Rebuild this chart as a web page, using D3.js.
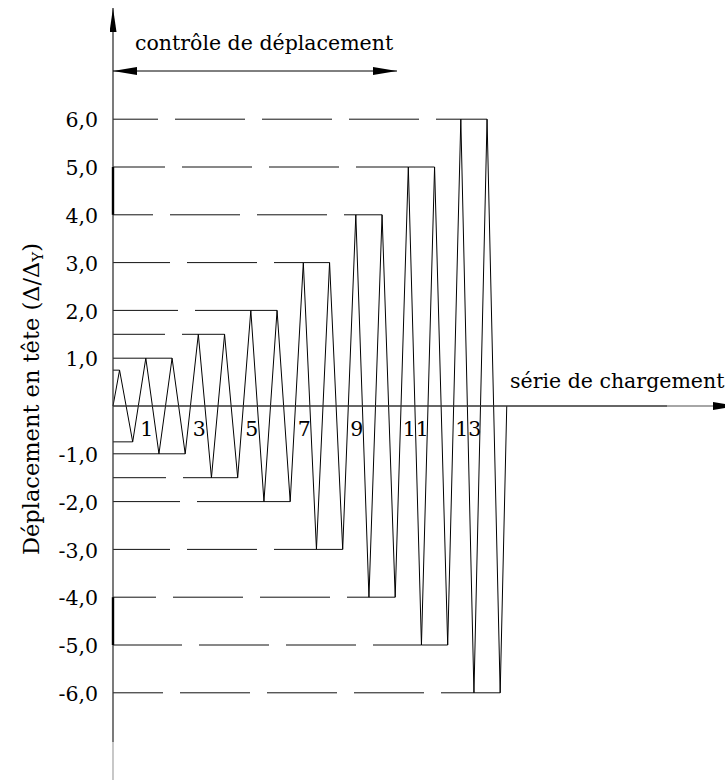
<!DOCTYPE html>
<html>
<head>
<meta charset="utf-8">
<script src="https://cdn.jsdelivr.net/npm/d3@7"></script>
<style>
  body { margin: 0; background: #fff; }
</style>
</head>
<body>
<div class="container"></div>
<script>
  var width = 725,
    height = 782;

  // amplitude of each loading cycle (Δ/ΔY), one entry per cycle
  var cycleAmps = [0.75, 1, 1, 1.5, 1.5, 2, 2, 3, 3, 4, 4, 5, 5, 6, 6];
  var yTicks = [6, 5, 4, 3, 2, 1, -1, -2, -3, -4, -5, -6];
  var xLabels = [1, 3, 5, 7, 9, 11, 13];

  // length of the first dash of each level line (drawing style only)
  var firstDash = { "6": 45, "5": 52, "4": 40, "3": 57, "2": 65, "1.5": 52, "1": 70, "0.75": 70,
    "-0.75": 70, "-1": 70, "-1.5": 53, "-2": 67, "-3": 57, "-4": 43, "-5": 69, "-6": 50 };

  var serif = "DejaVu Serif";
  var fontSize = 20.5;

  var nCycles = cycleAmps.length;

  var x = d3.scaleLinear()
    .domain([0, 2 * nCycles])
    .range([113, 506.75]);

  var y = d3.scaleLinear()
    .domain([-6, 6])
    .range([692.8, 119.2]);

  var svg = d3.select(".container").append("svg")
    .attr("width", width)
    .attr("height", height)
    .attr("font-family", serif);

  var defs = svg.append("defs");
  defs.append("marker")
    .attr("id", "arrow")
    .attr("viewBox", "0 0 24 8")
    .attr("refX", 24).attr("refY", 4)
    .attr("markerWidth", 24).attr("markerHeight", 8)
    .attr("markerUnits", "userSpaceOnUse")
    .attr("orient", "auto-start-reverse")
    .append("path")
    .attr("d", "M0,0L24,4L0,8Z")
    .attr("fill", "#000");
  defs.append("marker")
    .attr("id", "arrowThin")
    .attr("viewBox", "0 0 24 7")
    .attr("refX", 24).attr("refY", 3.5)
    .attr("markerWidth", 24).attr("markerHeight", 7)
    .attr("markerUnits", "userSpaceOnUse")
    .attr("orient", "auto")
    .append("path")
    .attr("d", "M0,0L24,3.5L0,7Z")
    .attr("fill", "#000");

  // zigzag points: (t, value)
  var pts = [[0, 0]];
  cycleAmps.forEach(function(a, i) {
    pts.push([2 * i + 0.5, a]);
    pts.push([2 * i + 1.5, -a]);
  });
  pts.push([2 * nCycles, 0]);

  // level lines: from the axis to the first peak (dashed), then between peaks (solid)
  var levels = [];
  cycleAmps.forEach(function(a, i) {
    [1, -1].forEach(function(s) {
      var v = s * a, t = s > 0 ? 2 * i + 0.5 : 2 * i + 1.5;
      var l = levels.find(function(d) { return d.v === v; });
      if (!l) levels.push({ v: v, first: t, last: t });
      else l.last = t;
    });
  });

  var lev = svg.append("g")
    .attr("stroke", "#111")
    .attr("stroke-width", 1)
    .attr("fill", "none");

  lev.selectAll(".dash")
    .data(levels)
    .enter().append("line")
    .attr("class", "dash")
    .attr("x1", x(0))
    .attr("x2", function(d) { return x(d.first); })
    .attr("y1", function(d) { return y(d.v); })
    .attr("y2", function(d) { return y(d.v); })
    .attr("stroke-dasharray", "70,17")
    .attr("stroke-dashoffset", function(d) { return 70 - firstDash[String(d.v)]; });

  lev.selectAll(".solid")
    .data(levels.filter(function(d) { return d.last > d.first; }))
    .enter().append("line")
    .attr("class", "solid")
    .attr("x1", function(d) { return x(d.first); })
    .attr("x2", function(d) { return x(d.last); })
    .attr("y1", function(d) { return y(d.v); })
    .attr("y2", function(d) { return y(d.v); });

  // zigzag load history
  svg.append("path")
    .datum(pts)
    .attr("fill", "none")
    .attr("stroke", "#000")
    .attr("stroke-width", 1)
    .attr("d", d3.line()
      .x(function(d) { return x(d[0]); })
      .y(function(d) { return y(d[1]); }));

  // axes
  var axes = svg.append("g")
    .attr("stroke", "#333")
    .attr("stroke-width", 1.3)
    .attr("fill", "none");

  axes.append("line")
    .attr("x1", x(0)).attr("x2", x(0))
    .attr("y1", 742).attr("y2", 8)
    .attr("marker-end", "url(#arrowThin)");
  axes.append("line")
    .attr("x1", x(0)).attr("x2", x(0))
    .attr("y1", 780).attr("y2", 742)
    .attr("stroke", "#aaa");
  axes.append("line")
    .attr("x1", x(0)).attr("x2", 667)
    .attr("y1", y(0)).attr("y2", y(0));
  axes.append("line")
    .attr("x1", 667).attr("x2", 737)
    .attr("y1", y(0)).attr("y2", y(0))
    .attr("stroke", "#888")
    .attr("marker-end", "url(#arrow)");

  // heavier pieces of the vertical axis
  axes.selectAll(".bold")
    .data([[4, 5], [-4, -5]])
    .enter().append("line")
    .attr("x1", x(0)).attr("x2", x(0))
    .attr("y1", function(d) { return y(d[0]); })
    .attr("y2", function(d) { return y(d[1]); })
    .attr("stroke", "#000")
    .attr("stroke-width", 2.4);

  // displacement-control arrow
  axes.append("line")
    .attr("x1", x(0)).attr("x2", 397)
    .attr("y1", 71).attr("y2", 71)
    .attr("stroke", "#000")
    .attr("stroke-width", 1)
    .attr("marker-start", "url(#arrow)")
    .attr("marker-end", "url(#arrow)");

  // y tick labels
  var fr = d3.formatLocale({ decimal: ",", thousands: ".", grouping: [3], currency: ["", ""], minus: "-" });
  var yAxis = d3.axisLeft(y)
    .tickValues(yTicks)
    .tickSize(0)
    .tickPadding(15)
    .tickFormat(fr.format(".1f"));

  var ya = svg.append("g")
    .attr("transform", "translate(" + x(0) + ",0)")
    .call(yAxis);
  ya.select(".domain").remove();
  ya.attr("font-family", serif).attr("font-size", fontSize);
  ya.selectAll("text")
    .attr("fill", "#000")
    .attr("dy", "0.38em");

  // x labels (load series)
  svg.selectAll(".xlab")
    .data(xLabels)
    .enter().append("text")
    .attr("class", "xlab")
    .attr("x", function(d) { return x(2 * d) + 1; })
    .attr("y", 436)
    .attr("font-size", fontSize)
    .text(function(d) { return d; });

  svg.append("text")
    .attr("x", 135)
    .attr("y", 50)
    .attr("font-size", fontSize)
    .text("contrôle de déplacement");

  svg.append("text")
    .attr("x", 510)
    .attr("y", 388)
    .attr("font-size", fontSize)
    .text("série de chargement");

  var yl = svg.append("text")
    .attr("transform", "translate(39,399) rotate(-90)")
    .attr("text-anchor", "middle")
    .attr("font-size", 22.5);
  yl.append("tspan").text("Déplacement en tête (Δ/Δ");
  yl.append("tspan").attr("font-size", 15).attr("dy", 4).text("Y");
  yl.append("tspan").attr("dy", -4).text(")");
</script>
</body>
</html>
